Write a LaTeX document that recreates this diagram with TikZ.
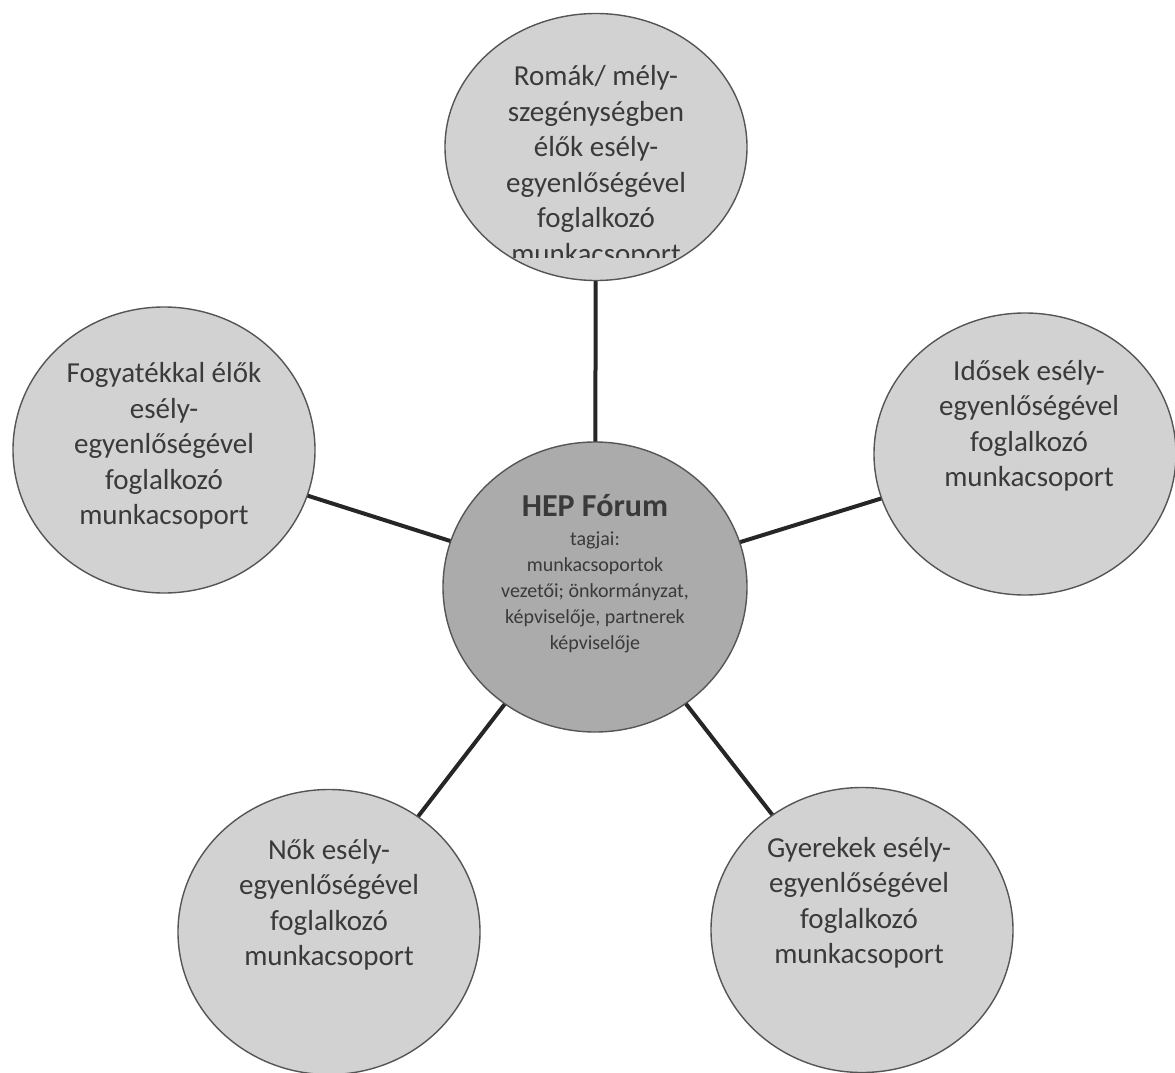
\documentclass[tikz,border=0pt]{standalone}
\usepackage{fontspec}
\setmainfont{Carlito}
\usetikzlibrary{shapes.geometric,backgrounds}
\definecolor{outerfill}{HTML}{D2D2D2}
\definecolor{centerfill}{HTML}{ABABAB}
\definecolor{rimcol}{HTML}{555555}
\definecolor{txtcol}{HTML}{3A3A3A}
\definecolor{linkcol}{HTML}{262626}
\tikzset{
  bubble/.style={ellipse, draw=rimcol, line width=1.4pt, fill=outerfill, inner sep=0pt, minimum width=302pt, minimum height=286pt},
  hub/.style={bubble, fill=centerfill, minimum width=304pt, minimum height=290pt},
  label/.style={text=txtcol, align=center, font=\fontsize{29}{35.5}\selectfont, inner sep=0pt},
  smalllabel/.style={text=txtcol, align=center, font=\fontsize{20}{26}\selectfont, inner sep=0pt},
  link/.style={draw=linkcol, line width=4pt}
}
\begin{document}
\begin{tikzpicture}[x=1pt,y=-1pt]
\useasboundingbox (0,0) rectangle (1175,1073);
\node[bubble, minimum height=267pt] (top) at (596,147) {};
\node[hub] (hub) at (595,587) {};
\node[bubble] (left) at (164,450) {};
\node[bubble, minimum height=282pt] (right) at (1025,454) {};
\node[bubble, minimum height=285pt] (bl) at (329,932) {};
\node[bubble, minimum height=285pt] (br) at (862,930) {};
\begin{pgfonlayer}{background}
\draw[link] (hub.center) -- (top.center);
\draw[link] (hub.center) -- (left.center);
\draw[link] (hub.center) -- (right.center);
\draw[link] (hub.center) -- (bl.center);
\draw[link] (hub.center) -- (br.center);
\end{pgfonlayer}
\begin{scope}
\clip (440,0) rectangle (760,257);
\node[label] (ttop) at (596,167) {Romák/ mély-\\szegénységben\\élők esély-\\egyenlőségével\\foglalkozó\\munkacsoport};
\end{scope}
\node[label] (tleft) at (164,446) {Fogyatékkal élők\\esély-\\egyenlőségével\\foglalkozó\\munkacsoport};
\node[label] (tright) at (1029,426) {Idősek esély-\\egyenlőségével\\foglalkozó\\munkacsoport};
\node[label] (tbl) at (329,905) {Nők esély-\\egyenlőségével\\foglalkozó\\munkacsoport};
\node[label] (tbr) at (859,903) {Gyerekek esély-\\egyenlőségével\\foglalkozó\\munkacsoport};
\node[text=txtcol, font=\bfseries\fontsize{32}{36}\selectfont, inner sep=0pt] (thub) at (595,506) {HEP Fórum};
\node[smalllabel] (tsub) at (595,592) {tagjai:\\munkacsoportok\\vezetői; önkormányzat,\\képviselője, partnerek\\képviselője};
\end{tikzpicture}
\end{document}
